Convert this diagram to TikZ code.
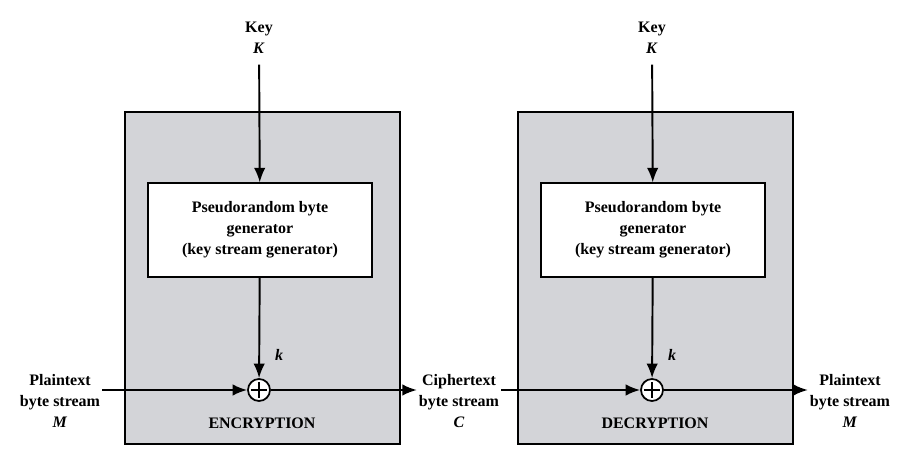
\documentclass[tikz,border=0pt]{standalone}
\usepackage{fontspec}
\setmainfont{Liberation Serif}
\usetikzlibrary{arrows.meta}
\definecolor{boxgray}{RGB}{211,212,216}

\begin{document}
\begin{tikzpicture}[
    lab/.style={align=center,font=\fontsize{9.1}{11.9}\selectfont\bfseries,inner sep=1pt},
    arr/.style={line width=1.1pt,-{Latex[length=2.9mm,width=2.3mm]}},
    xor/.style={circle,draw,fill=white,line width=1pt,minimum size=0.44cm,inner sep=0pt,
      path picture={\draw[line width=0.9pt] ([yshift=-1.6pt]path picture bounding box.north) -- ([yshift=1.6pt]path picture bounding box.south)
        ([xshift=1.6pt]path picture bounding box.west) -- ([xshift=-1.6pt]path picture bounding box.east);}}]
    \useasboundingbox (0,0) rectangle (18.12,9.38);
    % the two halves: x offset, name of the box
    \foreach \dx/\name [count=\i from 1] in {0/ENCRYPTION,7.86/DECRYPTION} {
        \draw[fill=boxgray,line width=0.7pt] (2.5+\dx,0.5) rectangle (8.0+\dx,7.14);
        \node[draw,fill=white,line width=0.7pt,minimum width=4.48cm,minimum height=1.88cm,lab] (gen\i) at (5.2+\dx,4.78)
            {Pseudorandom byte\\generator\\(key stream generator)};
        \node[lab] (key\i) at (5.18+\dx,8.62) {Key\\\textit{K}};
        \node[xor] (x\i) at (5.18+\dx,1.58) {};
        \node[lab] (k\i) at (5.58+\dx,2.28) {\textit{k}};
        \node[lab] (box\i) at (5.24+\dx,0.92) {\name};
    }
    \node[lab] (pt) at (1.2,1.36) {Plaintext\\byte stream\\\textit{M}};
    \node[lab] (ct) at (9.18,1.36) {Ciphertext\\byte stream\\\textit{C}};
    \node[lab] (out) at (17.0,1.36) {Plaintext\\byte stream\\\textit{M}};
    \draw[arr,shorten <=5pt] (key1) -- (gen1);
    \draw[arr,shorten <=5pt] (key2) -- (gen2);
    \draw[arr] (gen1) -- (x1);
    \draw[arr] (gen2) -- (x2);
    \draw[arr] (pt.east |- x1) -- (x1);
    \draw[arr] (x1) -- (ct.west |- x1);
    \draw[arr] (ct.east |- x2) -- (x2);
    \draw[arr] (x2) -- (out.west |- x2);
\end{tikzpicture}
\end{document}
